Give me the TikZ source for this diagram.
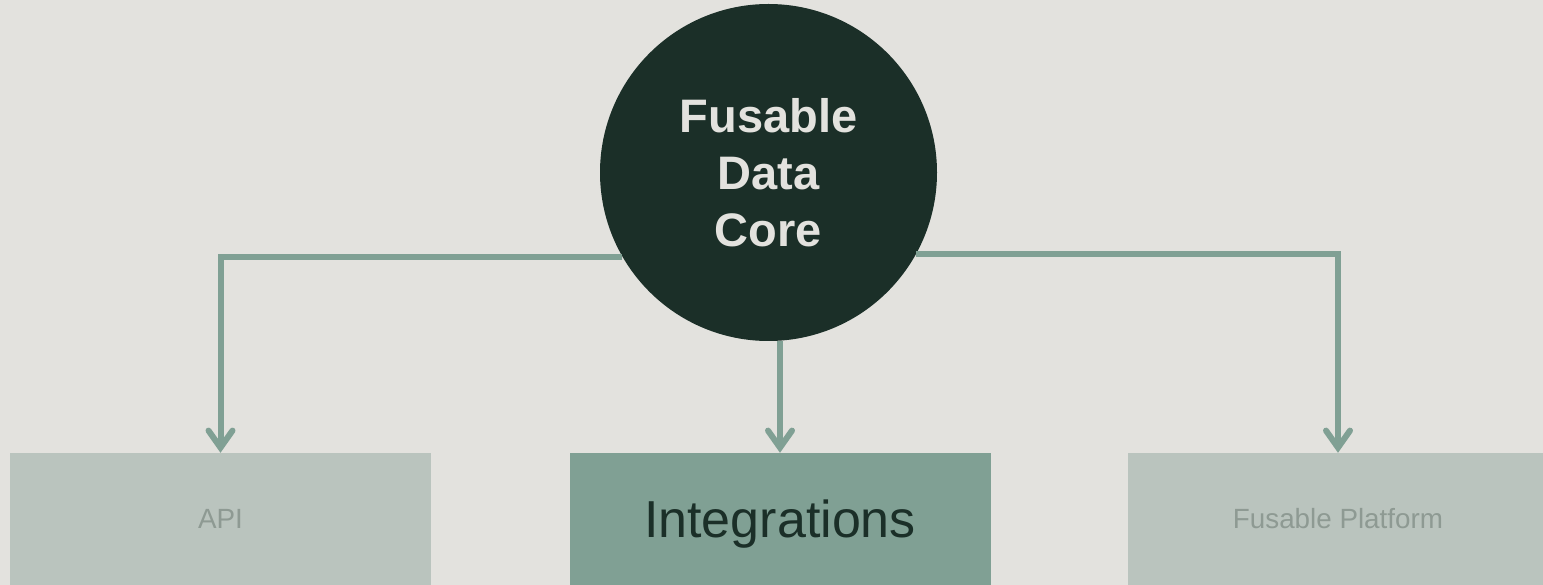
\documentclass[tikz,border=0pt]{standalone}
\usepackage{fontspec}
\setmainfont{Liberation Sans}
\usetikzlibrary{arrows.meta}
\definecolor{bgcol}{HTML}{E3E2DE}
\definecolor{corecol}{HTML}{1B2F28}
\definecolor{sage}{HTML}{80A094}
\definecolor{pale}{HTML}{BAC4BE}
\definecolor{paletext}{HTML}{8E9A93}
\begin{document}
\begin{tikzpicture}[x=1pt,y=-1pt,
  corenode/.style={circle, fill=corecol, minimum size=337pt, inner sep=0pt, text=bgcol,
    font=\bfseries\fontsize{47}{57}\selectfont, align=center},
  boxnode/.style={rectangle, minimum width=421pt, minimum height=132pt, inner sep=0pt},
  palebox/.style={boxnode, fill=pale, text=paletext, font=\fontsize{27.8}{33}\selectfont},
  mainbox/.style={boxnode, fill=sage, text=corecol, text depth=0pt, font=\fontsize{52}{60}\selectfont},
  conn/.style={draw=sage, line width=6pt,
    -{Straight Barb[length=17pt, width=24pt, line cap=round, line join=miter]}}
]
\path[use as bounding box, clip] (0,0) rectangle (1543,585);
\fill[bgcol] (0,0) rectangle (1543,585);
\node[corenode] (core) at (768.5,172.5) {Fusable\\Data\\Core};
\node[palebox] (api) at (220.5,519) {API};
\node[mainbox] (integ) at (780,519) {Integrations};
\node[palebox] (plat) at (1338,519) {Fusable Platform};
\draw[conn] (core.210) -| (api.north);
\draw[conn] (integ.north |- core.south) -- (integ.north);
\draw[conn] (core.331) -| (plat.north);
\end{tikzpicture}
\end{document}
